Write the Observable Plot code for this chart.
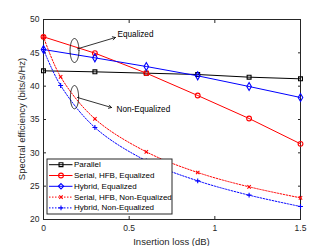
<!DOCTYPE html>
<html><head><meta charset="utf-8">
<script src="https://cdn.jsdelivr.net/npm/d3@7"></script>
<script src="https://cdn.jsdelivr.net/npm/@observablehq/plot@0.6"></script>
<style>body{margin:0;background:#fff;} svg{font-family:"Liberation Sans",Arial,sans-serif;}</style>
</head><body><div id="chart"></div>
<script>
const xEq = [0, 0.3, 0.6, 0.9, 1.2, 1.5];
const xNonEq = [0, 0.1, 0.3, 0.6, 0.9, 1.2, 1.5];
const parallel = [42.3, 42.15, 41.95, 41.75, 41.35, 41.1];
const serialEq = [47.4, 44.95, 41.95, 38.6, 35.15, 31.35];
const hybridEq = [45.5, 44.25, 42.95, 41.55, 39.95, 38.3];
const serialNonEq = [47.4, 41.4, 35.1, 30.15, 27.05, 24.9, 23.25];
const hybridNonEq = [45.5, 40.1, 33.8, 28.8, 25.8, 23.65, 21.95];
const xTicks = [0, 0.5, 1, 1.5];
const yTicks = [20, 25, 30, 35, 40, 45, 50];
const xLabel = "Insertion loss (dB)";
const yLabel = "Spectral efficiency (bits/s/Hz)";
const seriesNames = ["Parallel", "Serial, HFB, Equalized", "Hybrid, Equalized", "Serial, HFB, Non-Equalized", "Hybrid, Non-Equalized"];
// annotations (data units)
const ellipses = [{cx: 0.181, cy: 45.35, rx: 0.026, ry: 1.8}, {cx: 0.181, cy: 38.35, rx: 0.024, ry: 1.75}];
const arrows = [{x1: 0.198, y1: 45.6, x2: 0.42, y2: 47.3}, {x1: 0.198, y1: 38.3, x2: 0.397, y2: 36.8}];
const notes = [{x: 0.432, y: 47.75, text: "Equalized"}, {x: 0.426, y: 36.5, text: "Non-Equalized"}];

const styles = [
  {color: "#000000", dash: null, symbol: "square", r: 2.2},
  {color: "#ff0000", dash: null, symbol: "circle", r: 2.4},
  {color: "#0000ff", dash: null, symbol: "diamond", r: 2.4},
  {color: "#ff0000", dash: "1.5,1.5", symbol: "times", r: 1.7},
  {color: "#0000ff", dash: "1.5,1.5", symbol: "plus", r: 1.7}
];
const mk = (xs, ys) => xs.map((x, i) => ({x, y: ys[i]}));
const sets = [mk(xEq, parallel), mk(xEq, serialEq), mk(xEq, hybridEq), mk(xNonEq, serialNonEq), mk(xNonEq, hybridNonEq)];

const ellPts = ellipses.map(e => d3.range(0, 61).map(k => {
  const t = k / 60 * 2 * Math.PI;
  return {x: e.cx + e.rx * Math.cos(t), y: e.cy + e.ry * Math.sin(t)};
}));

const marks = [];
sets.forEach((d, i) => {
  const s = styles[i];
  marks.push(Plot.line(d, {x: "x", y: "y", stroke: s.color, strokeWidth: 1, strokeDasharray: s.dash, curve: i >= 3 ? "catmull-rom" : "linear"}));
  marks.push(Plot.dot(d, {x: "x", y: "y", stroke: s.color, fill: "none", symbol: s.symbol, r: s.r, strokeWidth: 1.1}));
});
ellPts.forEach(p => marks.push(Plot.line(p, {x: "x", y: "y", stroke: "#000", strokeWidth: 0.8})));
marks.push(Plot.arrow(arrows, {x1: "x1", y1: "y1", x2: "x2", y2: "y2", stroke: "#000", strokeWidth: 0.8, headLength: 6}));
marks.push(Plot.text(notes, {x: "x", y: "y", text: "text", textAnchor: "start", fontSize: 8.2, fill: "#000"}));

const plot = Plot.plot({
  width: 332, height: 246,
  marginLeft: 43, marginRight: 32, marginTop: 19, marginBottom: 27,
  style: {fontSize: "8.5px", fontFamily: "Liberation Sans, Arial, sans-serif", color: "#262626"},
  x: {domain: [0, 1.5]},
  y: {domain: [20, 50]},
  marks: [
    Plot.frame({stroke: "#262626", strokeWidth: 1}),
    Plot.axisX({anchor: "bottom", ticks: xTicks, tickSize: 0, tickPadding: 5, tickFormat: d => String(d), label: null}),
    Plot.axisX({anchor: "bottom", ticks: xTicks, tickSize: -3, tickFormat: () => "", label: null}),
    Plot.axisX({anchor: "top", ticks: xTicks, tickSize: -3, tickFormat: () => "", label: null}),
    Plot.axisY({anchor: "left", ticks: yTicks, tickSize: 0, tickPadding: 4, label: null}),
    Plot.axisY({anchor: "left", ticks: yTicks, tickSize: -3, tickFormat: () => "", label: null}),
    Plot.axisY({anchor: "right", ticks: yTicks, tickSize: -3, tickFormat: () => "", label: null}),
    ...marks
  ]
});
document.getElementById("chart").appendChild(plot);

const svg = d3.select(plot);
const fx0 = 43, fx1 = 332 - 32, fy0 = 19, fy1 = 246 - 27;
// axis labels
svg.append("text").attr("x", (fx0 + fx1) / 2).attr("y", 242).attr("dy", "0.32em").attr("text-anchor", "middle").attr("font-size", 9.5).attr("fill", "#262626").text(xLabel);
svg.append("text").attr("transform", `translate(22,${(fy0 + fy1) / 2}) rotate(-90)`).attr("dy", "0.32em").attr("text-anchor", "middle").attr("font-size", 9.5).attr("fill", "#262626").text(yLabel);

// legend
const lx = 47, ly = 159, lw = 125, lh = 55, rowH = 10.8;
const g = svg.append("g").attr("text-anchor", "start");
g.append("rect").attr("x", lx).attr("y", ly).attr("width", lw).attr("height", lh).attr("fill", "#fff").attr("stroke", "#262626").attr("stroke-width", 1);
const symMap = {square: d3.symbolSquare, circle: d3.symbolCircle, diamond: d3.symbolDiamond2, times: d3.symbolTimes, plus: d3.symbolPlus};
seriesNames.forEach((name, i) => {
  const s = styles[i];
  const y = ly + 5.7 + i * rowH;
  g.append("line").attr("x1", lx + 2).attr("x2", lx + 25.5).attr("y1", y).attr("y2", y).attr("stroke", s.color).attr("stroke-width", 1).attr("stroke-dasharray", s.dash);
  g.append("path").attr("transform", `translate(${lx + 14},${y})`).attr("d", d3.symbol(symMap[s.symbol], s.r * s.r * Math.PI)()).attr("fill", "none").attr("stroke", s.color).attr("stroke-width", 1.1);
  g.append("text").attr("x", lx + 27).attr("y", y).attr("dy", "0.32em").attr("text-anchor", "start").attr("font-size", 8).attr("fill", "#000").text(name);
});
</script></body></html>
